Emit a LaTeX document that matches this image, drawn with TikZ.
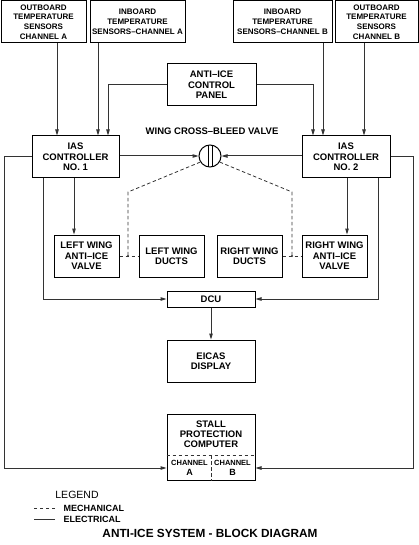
\documentclass[tikz,border=0pt]{standalone}
\usepackage{fontspec}
\setmainfont{Liberation Sans}
\usetikzlibrary{arrows.meta, calc}
\definecolor{lineGray}{gray}{0.2}

\begin{document}
\begin{tikzpicture}[x=1pt, y=-1pt,
    >={Triangle[length=6pt,width=3.5pt]},
    box/.style={draw=black, line width=1pt, inner sep=0pt, align=center,
      font=\fontsize{9.5}{10.5}\selectfont\bfseries},
    sensorbox/.style={box, font=\fontsize{8}{9.8}\selectfont\bfseries},
    elec/.style={draw=lineGray, line width=1pt},
    mech/.style={elec, line width=0.8pt, dash pattern=on 3.5pt off 2.5pt}]
    \useasboundingbox (0,0) rectangle (419,545);

    \node[sensorbox, minimum width=85pt, minimum height=42pt] (outA) at (43.5,22) {OUTBOARD\\TEMPERATURE\\SENSORS\\CHANNEL A};
    \node[sensorbox, minimum width=95pt, minimum height=42pt] (inA) at (137.5,22) {INBOARD\\TEMPERATURE\\SENSORS--CHANNEL A};
    \node[sensorbox, minimum width=99pt, minimum height=42pt] (inB) at (282.5,22) {INBOARD\\TEMPERATURE\\SENSORS--CHANNEL B};
    \node[sensorbox, minimum width=83pt, minimum height=42pt] (outB) at (376.5,22) {OUTBOARD\\TEMPERATURE\\SENSORS\\CHANNEL B};
    \node[box, minimum width=89pt, minimum height=42pt] (panel) at (211.5,85) {ANTI--ICE\\CONTROL\\PANEL};

    \node[box, minimum width=87pt, minimum height=42pt] (ias1) at (75.5,157) {IAS\\CONTROLLER\\NO. 1};
    \node[box, minimum width=88pt, minimum height=42pt] (ias2) at (346,157) {IAS\\CONTROLLER\\NO. 2};
    \node[circle, draw=black, line width=1pt, minimum size=22pt, inner sep=0pt] (valve) at (210,156) {};
    \node[font=\fontsize{9.5}{11}\selectfont\bfseries] (valveText) at (212,131) {WING CROSS--BLEED VALVE};

    \node[box, minimum width=65pt, minimum height=42pt] (lwav) at (86.5,256) {LEFT WING\\ANTI--ICE\\VALVE};
    \node[box, minimum width=65pt, minimum height=42pt] (lwd) at (171.5,256) {LEFT WING\\DUCTS};
    \node[box, minimum width=65pt, minimum height=42pt] (rwd) at (249.5,256) {RIGHT WING\\DUCTS};
    \node[box, minimum width=65pt, minimum height=42pt] (rwav) at (334.5,256) {RIGHT WING\\ANTI--ICE\\VALVE};

    \node[box, minimum width=88pt, minimum height=16pt] (dcu) at (211,299) {DCU};
    \node[box, minimum width=88pt, minimum height=42pt] (eicas) at (211,361) {EICAS\\DISPLAY};
    \node[box, minimum width=88pt, minimum height=66pt] (spc) at (211,447) {};
    \node[align=center, font=\fontsize{9.5}{9.8}\selectfont\bfseries] (spcText) at (211,434.5) {STALL\\PROTECTION\\COMPUTER};
    \node[align=center, font=\fontsize{7.5}{9.5}\selectfont\bfseries] (chA) at (189.5,468) {CHANNEL\\{\fontsize{9}{9.5}\selectfont A}};
    \node[align=center, font=\fontsize{7.5}{9.5}\selectfont\bfseries] (chB) at (232.5,468) {CHANNEL\\{\fontsize{9}{9.5}\selectfont B}};
    \draw[mech, line width=0.6pt] (spc.west |- 0,455) -- (spc.east |- 0,455);
    \draw[mech, line width=0.6pt] (spc.south |- 0,455) -- (spc.south);

    % electrical
    \draw[elec, ->] (outA.south -| 57,0) -- (ias1.north -| 57,0);
    \draw[elec, ->] (inA.south -| 98,0) -- (ias1.north -| 98,0);
    \draw[elec, ->] (panel.west) -| (ias1.north -| 108,0);
    \draw[elec, ->] (inB.south -| 323,0) -- (ias2.north -| 323,0);
    \draw[elec, ->] (outB.south -| 364,0) -- (ias2.north -| 364,0);
    \draw[elec, ->] (panel.east) -| (ias2.north -| 313,0);
    \draw[elec, ->] (ias1.east |- valve.west) -- (valve.west);
    \draw[elec, ->] (ias2.west |- valve.east) -- (valve.east);
    \draw[elec, ->] (ias1.south -| 74,0) -- (lwav.north -| 74,0);
    \draw[elec, ->] (ias2.south -| 347,0) -- (rwav.north -| 347,0);
    \draw[elec, ->] (ias1.south -| 43,0) |- (dcu.west);
    \draw[elec, ->] (ias2.south -| 378,0) |- (dcu.east);
    \draw[elec, ->] (dcu.south) -- (eicas.north);
    \draw[elec, ->] (ias1.west) -| (4,468) -- (spc.west |- 0,468);
    \draw[elec, ->] (ias2.east) -| (413,468) -- (spc.east |- 0,468);

    % valve gate
    \draw[line width=0.8pt] ($(valve.center)+(-2,-10.8)$) -- ++(0,21.6);
    \draw[line width=0.8pt] ($(valve.center)+(2,-10.8)$) -- ++(0,21.6);

    % mechanical
    \coordinate (jL) at (128,256);
    \coordinate (jR) at (292,256);
    \draw[mech] (valve.212) -- (128,192) -- (jL);
    \draw[mech] (valve.328) -- (292,192) -- (jR);
    \draw[mech] (lwav.east) -- (lwd.west);
    \draw[mech] (rwd.east) -- (rwav.west);
    \fill[lineGray] (jL) circle (1.2pt);
    \fill[lineGray] (jR) circle (1.2pt);

    % legend
    \node[font=\fontsize{10.5}{12}\selectfont] (legend) at (77,495) {LEGEND};
    \node[anchor=west, font=\fontsize{9}{10}\selectfont\bfseries] (mechText) at (60,508) {MECHANICAL};
    \node[anchor=west, font=\fontsize{9}{10}\selectfont\bfseries] (elecText) at (60,519) {ELECTRICAL};
    \draw[mech] ([xshift=-5pt]mechText.west) -- ++(-21,0);
    \draw[elec] ([xshift=-5pt]elecText.west) -- ++(-21,0);
    \node[font=\fontsize{11.8}{13}\selectfont\bfseries] (title) at (210,533) {ANTI-ICE SYSTEM - BLOCK DIAGRAM};
\end{tikzpicture}
\end{document}
